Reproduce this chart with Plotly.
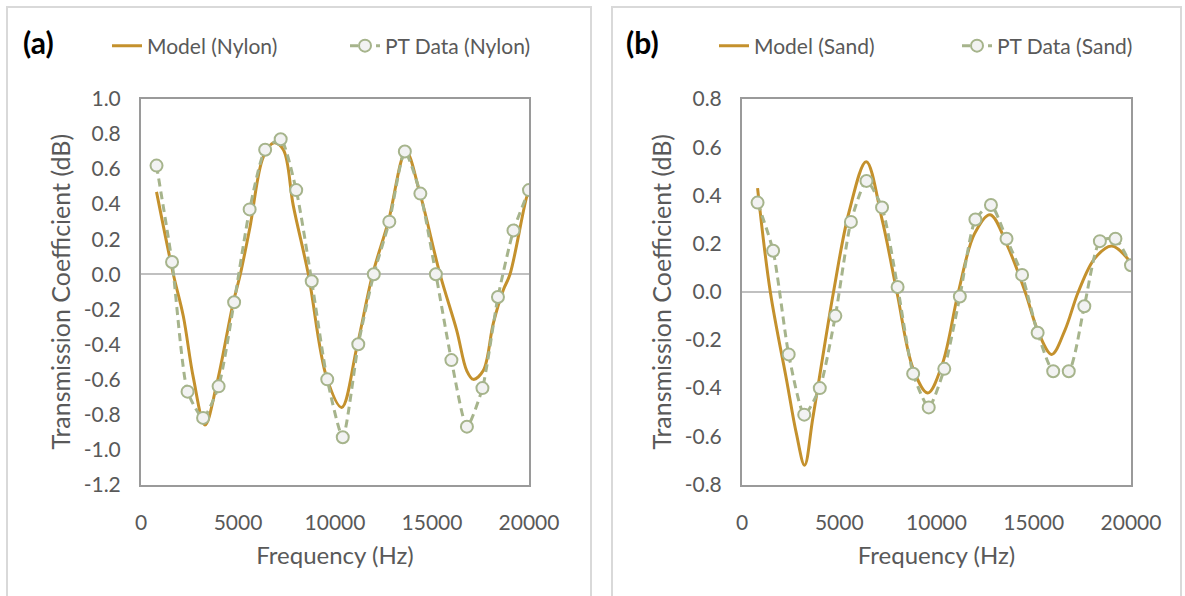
import plotly.graph_objects as go

# ---------------- data ----------------
freq_pt = [800, 1600, 2400, 3200, 4000, 4800, 5600, 6400, 7200, 8000, 8800, 9600,
           10400, 11200, 12000, 12800, 13600, 14400, 15200, 16000, 16800, 17600,
           18400, 19200, 20000]

pt_nylon = [0.62, 0.07, -0.67, -0.82, -0.64, -0.16, 0.37, 0.71, 0.77, 0.48, -0.04, -0.60,
            -0.93, -0.40, 0.00, 0.30, 0.70, 0.46, 0.00, -0.49, -0.87, -0.65,
            -0.13, 0.25, 0.48]

pt_sand = [0.37, 0.17, -0.26, -0.51, -0.40, -0.10, 0.29, 0.46, 0.35, 0.02, -0.34, -0.48,
           -0.32, -0.02, 0.30, 0.36, 0.22, 0.07, -0.17, -0.33, -0.33, -0.06,
           0.21, 0.22, 0.11]

freq_model_nylon = [800, 1667, 2182, 2698, 3299, 3900, 4758, 5120, 5619, 6306, 6856, 7337,
                    7852, 8625, 9572, 10344, 11119, 11942, 12748, 13660, 14381, 15412,
                    16273, 16789, 17129, 17644, 18160, 18675, 19021, 19880, 20000]
model_nylon = [0.47, 0.00, -0.24, -0.59, -0.86, -0.63, -0.16, 0.00, 0.27, 0.67, 0.75, 0.71,
               0.39, 0.00, -0.59, -0.76, -0.42, 0.00, 0.30, 0.70, 0.46, 0.00,
               -0.32, -0.55, -0.60, -0.55, -0.28, -0.09, 0.00, 0.44, 0.47]

freq_model_sand = [800, 1454, 2300, 2800, 3217, 3650, 4707, 5500, 6386, 7200, 7962, 8800,
                   9555, 10300, 11128, 11950, 12755, 13650, 14554, 15250, 15925, 16600,
                   17293, 18150, 19008, 20000]
model_sand = [0.43, 0.00, -0.37, -0.59, -0.72, -0.52, 0.00, 0.33, 0.54, 0.30, 0.00, -0.32,
              -0.42, -0.30, 0.00, 0.24, 0.32, 0.19, 0.00, -0.17, -0.26, -0.16,
              0.00, 0.14, 0.19, 0.12]

x_ticks = [0, 5000, 10000, 15000, 20000]
x_ticktext = ["0", "5000", "10000", "15000", "20000"]
ya_ticks = [-1.2, -1.0, -0.8, -0.6, -0.4, -0.2, 0.0, 0.2, 0.4, 0.6, 0.8, 1.0]
ya_ticktext = ["-1.2", "-1.0", "-0.8", "-0.6", "-0.4", "-0.2", "0.0", "0.2", "0.4", "0.6", "0.8", "1.0"]
yb_ticks = [-0.8, -0.6, -0.4, -0.2, 0.0, 0.2, 0.4, 0.6, 0.8]
yb_ticktext = ["-0.8", "-0.6", "-0.4", "-0.2", "0.0", "0.2", "0.4", "0.6", "0.8"]

# ---------------- style ----------------
W, H = 1185, 596
FONT = "Lato"
TXT = "#595959"
MODEL_C = "#C4912D"
PT_C = "#A6B48C"

def px_x(p):
    return p / W

def px_y(p):
    return 1 - p / H

fig = go.Figure()

def add_panel(xa, ya, fm, m, fp, p, name_m, name_p, leg_m, leg_p):
    fig.add_trace(go.Scatter(
        x=fm, y=m, mode="lines", name=name_m, xaxis=xa, yaxis=ya, legend=leg_m,
        line=dict(color=MODEL_C, width=3, shape="spline", smoothing=1.0),
    ))
    fig.add_trace(go.Scatter(
        x=fp, y=p, mode="lines+markers", name=name_p, xaxis=xa, yaxis=ya, legend=leg_p,
        line=dict(color=PT_C, width=3, dash="8px,5px", shape="spline", smoothing=0.6),
        marker=dict(size=12, color="#F2F2F2", line=dict(color=PT_C, width=2)),
    ))

add_panel("x", "y", freq_model_nylon, model_nylon, freq_pt, pt_nylon,
          "Model (Nylon)", "PT Data (Nylon)", "legend", "legend2")
add_panel("x2", "y2", freq_model_sand, model_sand, freq_pt, pt_sand,
          "Model (Sand)", "PT Data (Sand)", "legend3", "legend4")

axis_common = dict(
    showgrid=False, ticks="", showline=True, linecolor="#9A9A9A", linewidth=2, mirror=True,
    tickfont=dict(family=FONT, size=21, color=TXT), automargin=False,
)
title_font = dict(family=FONT, size=24, color=TXT)
ytitle_font = dict(family=FONT, size=25, color=TXT)

xa_dom = [px_x(141), px_x(529)]
xb_dom = [px_x(742), px_x(1131)]
y_dom = [px_y(484.5), px_y(99)]

def leg(xpx):
    return dict(orientation="h", x=px_x(xpx), xanchor="left", y=px_y(46), yanchor="middle",
                font=dict(family=FONT, size=21, color=TXT), bgcolor="rgba(0,0,0,0)",
                borderwidth=0)

fig.update_layout(
    width=W, height=H,
    margin=dict(l=0, r=0, t=0, b=0, autoexpand=False),
    paper_bgcolor="white", plot_bgcolor="white",
    font=dict(family=FONT, color=TXT),
    xaxis=dict(domain=xa_dom, anchor="y", range=[0, 20000], tickvals=x_ticks, ticktext=x_ticktext,
               ticklabelstandoff=18,
               title=dict(text="Frequency (Hz)", font=title_font, standoff=14),
               zeroline=False, **axis_common),
    yaxis=dict(domain=y_dom, anchor="x", range=[-1.2, 1.0], tickvals=ya_ticks, ticktext=ya_ticktext,
               ticklabelstandoff=14,
               title=dict(text="Transmission Coefficient (dB)", font=ytitle_font, standoff=6),
               zeroline=True, zerolinecolor="#C0C0C0", zerolinewidth=2, **axis_common),
    xaxis2=dict(domain=xb_dom, anchor="y2", range=[0, 20000], tickvals=x_ticks, ticktext=x_ticktext,
                ticklabelstandoff=18,
                title=dict(text="Frequency (Hz)", font=title_font, standoff=14),
                zeroline=False, **axis_common),
    yaxis2=dict(domain=y_dom, anchor="x2", range=[-0.8, 0.8], tickvals=yb_ticks, ticktext=yb_ticktext,
                ticklabelstandoff=14,
                title=dict(text="Transmission Coefficient (dB)", font=ytitle_font, standoff=6),
                zeroline=True, zerolinecolor="#C0C0C0", zerolinewidth=2, **axis_common),
    legend=leg(107),
    legend2=leg(345),
    legend3=leg(714),
    legend4=leg(957),
    showlegend=True,
)

# panel labels
fig.add_annotation(text="<b>(a)</b>", x=px_x(21), y=px_y(42), xref="paper", yref="paper",
                   xanchor="left", yanchor="middle", showarrow=False,
                   font=dict(family=FONT, size=30, color="black"))
fig.add_annotation(text="<b>(b)</b>", x=px_x(624), y=px_y(42), xref="paper", yref="paper",
                   xanchor="left", yanchor="middle", showarrow=False,
                   font=dict(family=FONT, size=30, color="black"))

# panel frames
for x0, x1 in [(7, 591), (612, 1181)]:
    fig.add_shape(type="rect", xref="paper", yref="paper",
                  x0=px_x(x0), x1=px_x(x1), y0=px_y(600), y1=px_y(7),
                  line=dict(color="#D9D9D9", width=2), fillcolor="rgba(0,0,0,0)", layer="below")

fig.write_html("out.html")
